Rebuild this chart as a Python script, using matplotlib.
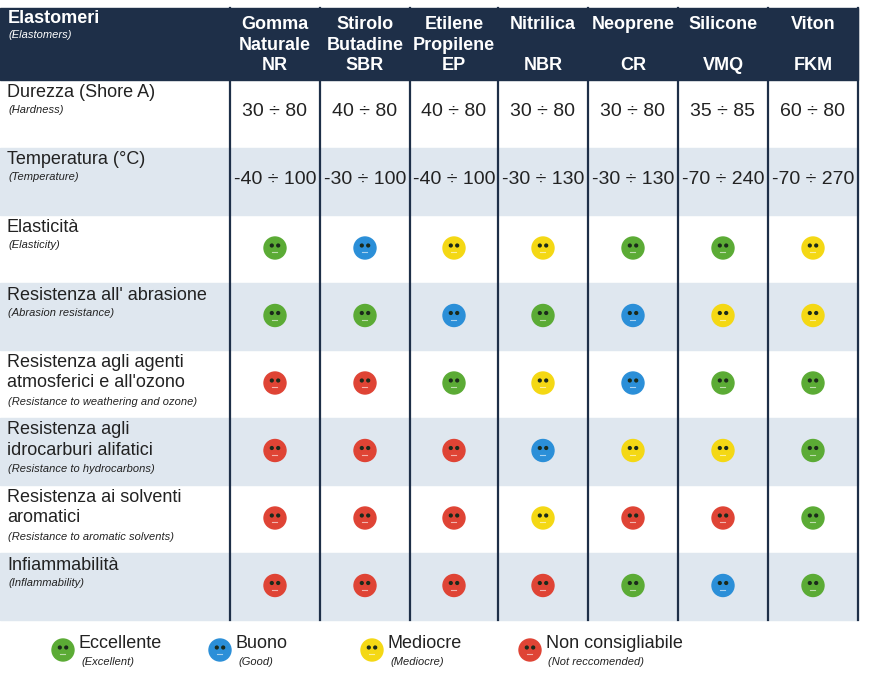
import matplotlib.pyplot as plt
from matplotlib.patches import Rectangle, Circle

plt.rcParams['font.family'] = ['Liberation Sans', 'DejaVu Sans']

materials = ["Gomma\nNaturale\nNR", "Stirolo\nButadine\nSBR", "Etilene\nPropilene\nEP",
             "Nitrilica\n\nNBR", "Neoprene\n\nCR", "Silicone\n\nVMQ", "Viton\n\nFKM"]
row_titles = ["Durezza (Shore A)", "Temperatura (°C)", "Elasticità", "Resistenza all' abrasione",
              "Resistenza agli agenti\natmosferici e all'ozono", "Resistenza agli\nidrocarburi alifatici",
              "Resistenza ai solventi\naromatici", "Infiammabilità"]
row_subs = ["(Hardness)", "(Temperature)", "(Elasticity)", "(Abrasion resistance)",
            "(Resistance to weathering and ozone)", "(Resistance to hydrocarbons)",
            "(Resistance to aromatic solvents)", "(Inflammability)"]
hardness = ["30 ÷ 80", "40 ÷ 80", "40 ÷ 80", "30 ÷ 80", "30 ÷ 80", "35 ÷ 85", "60 ÷ 80"]
temperature = ["-40 ÷ 100", "-30 ÷ 100", "-40 ÷ 100", "-30 ÷ 130", "-30 ÷ 130", "-70 ÷ 240", "-70 ÷ 270"]
# G excellent, B good, Y mediocre, R not recommended
ratings = ["GBYYGGY", "GGBGBYY", "RRGYBGG", "RRRBYYG", "RRRYRRG", "RRRRGBG"]
legend_codes = ["G", "B", "Y", "R"]
legend_it = ["Eccellente", "Buono", "Mediocre", "Non consigliabile"]
legend_en = ["(Excellent)", "(Good)", "(Mediocre)", "(Not reccomended)"]

colors = {"G": "#5bab35", "B": "#2b8fd8", "Y": "#f4d814", "R": "#df4435"}
navy = "#1e2f48"
stripe = "#dfe7ef"

W, H = 870, 692
fig = plt.figure(figsize=(W / 100, H / 100), dpi=100)
ax = fig.add_axes([0, 0, 1, 1])
ax.set_xlim(0, W)
ax.set_ylim(H, 0)
ax.axis("off")
fig.patch.set_facecolor("white")

xs = [0, 230, 320, 410, 498, 588, 678, 768, 858]
top, hbot, rh = 8, 80, 67.5
ybounds = [hbot + i * rh for i in range(len(row_titles) + 1)]

def smiley(cx, cy, code, r=11):
    ax.add_patch(Circle((cx, cy), r, color=colors[code], zorder=3))
    for dx in (-3.2, 3.2):
        ax.add_patch(Circle((cx + dx, cy - 2.5), 1.4, color="#1b2a1b", zorder=4))
    ax.plot([cx - 2.5, cx + 2.5], [cy + 4, cy + 4], color="white", lw=0.8, alpha=0.6, zorder=4)

# header
ax.add_patch(Rectangle((0, top), xs[-1], hbot - top, color=navy))
ax.text(8, top + 2, "Elastomeri", color="white", fontsize=13, fontweight="bold", va="top")
ax.text(8, top + 22, "(Elastomers)", color="white", fontsize=8, style="italic", va="top")
for i, m in enumerate(materials):
    cx = (xs[i + 1] + xs[i + 2]) / 2
    ax.text(cx, (top + hbot) / 2 + 1, m, color="white", fontsize=13, fontweight="bold",
            ha="center", va="center", linespacing=1.3)

# body rows
for r in range(len(row_titles)):
    y0, y1 = ybounds[r], ybounds[r + 1]
    if r % 2 == 1:
        ax.add_patch(Rectangle((0, y0), xs[-1], rh, color=stripe, zorder=0))
    ax.text(7, y0 + 4, row_titles[r], fontsize=13, color="#222222", va="top", linespacing=1.25)
    nlines = row_titles[r].count("\n") + 1
    ax.text(8, y0 + 3 + 22 * nlines, row_subs[r], fontsize=8, style="italic",
            color="#222222", va="top")
    cy = y0 + (32 if r < 2 else 33)
    for c in range(7):
        cx = (xs[c + 1] + xs[c + 2]) / 2
        if r == 0:
            ax.text(cx, cy, hardness[c], fontsize=14, ha="center", va="center", color="#222222")
        elif r == 1:
            ax.text(cx, cy, temperature[c], fontsize=14, ha="center", va="center", color="#222222")
        else:
            smiley(cx, cy, ratings[r - 2][c])

for x in xs[1:]:
    ax.plot([x, x], [top, ybounds[-1]], color=navy, lw=1.6, zorder=2)

# legend
lx = [63, 220, 372, 530]
for i, code in enumerate(legend_codes):
    smiley(lx[i], 650, code)
    ax.text(lx[i] + 16, 644, legend_it[i], fontsize=13, color="#222222", va="center")
    ax.text(lx[i] + 18, 662, legend_en[i], fontsize=8, style="italic", color="#222222", va="center")

fig.savefig("out.png", dpi=100)
